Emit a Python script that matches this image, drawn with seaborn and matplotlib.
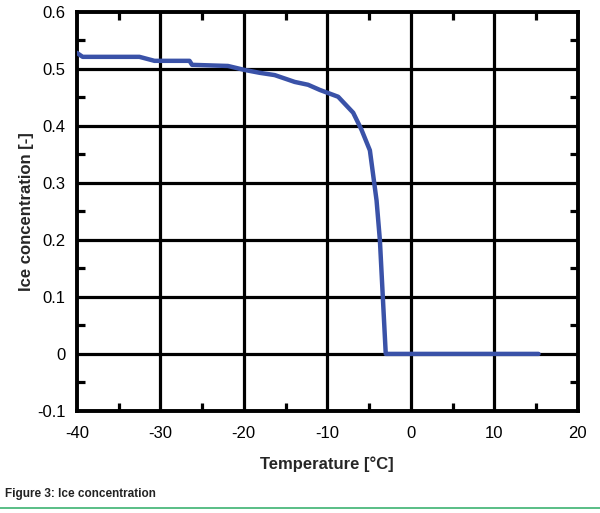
import matplotlib
matplotlib.use("Agg")
import matplotlib.pyplot as plt
import seaborn as sns
import numpy as np
from matplotlib.ticker import MultipleLocator

temperature = [-40.0, -39.3, -32.5, -30.7, -26.5, -26.2, -21.9, -19.9, -18.1, -16.3,
               -13.9, -12.3, -10.9, -8.7, -6.9, -5.9, -4.9, -4.1, -3.7, -3.0, 15.3]
ice_conc = [0.528, 0.521, 0.521, 0.514, 0.514, 0.507, 0.505, 0.498, 0.493, 0.489,
            0.477, 0.472, 0.463, 0.451, 0.423, 0.393, 0.357, 0.269, 0.199, 0.0, 0.0]

x_ticks = [-40, -30, -20, -10, 0, 10, 20]
y_ticks = [-0.1, 0, 0.1, 0.2, 0.3, 0.4, 0.5, 0.6]
y_tick_labels = ["-0.1", "0", "0.1", "0.2", "0.3", "0.4", "0.5", "0.6"]

sns.set_theme(style="white")
plt.rcParams['font.family'] = ['Liberation Sans', 'DejaVu Sans']

fig = plt.figure(figsize=(6.0, 5.13), dpi=100)
ax = fig.add_axes([0.128, 0.199, 0.835, 0.778])

for xv in x_ticks[1:-1]:
    ax.axvline(xv, color='black', lw=2.3, zorder=1)
for yv in y_ticks[1:-1]:
    ax.axhline(yv, color='black', lw=2.3, zorder=1)

sns.lineplot(x=temperature, y=ice_conc, sort=False, estimator=None, ax=ax,
             color='#3a52a8', lw=3.2, zorder=3)

ax.set_xlim(-40, 20)
ax.set_ylim(-0.1, 0.6)
ax.set_xticks(x_ticks)
ax.set_xticklabels([str(v) for v in x_ticks])
ax.set_yticks(y_ticks)
ax.set_yticklabels(y_tick_labels)
ax.xaxis.set_minor_locator(MultipleLocator(5))
ax.yaxis.set_minor_locator(MultipleLocator(0.05))
ax.tick_params(which='major', length=0, labelsize=12, colors='black')
ax.tick_params(axis='x', which='major', pad=11)
ax.tick_params(axis='y', which='major', pad=8)
ax.tick_params(which='minor', direction='in', length=6, width=2.3, color='black',
               top=True, right=True, bottom=True, left=True)
for sp in ax.spines.values():
    sp.set_color('black')
    sp.set_linewidth(2.8)
    sp.set_visible(True)

ax.set_xlabel("Temperature [°C]", fontsize=12, fontweight='bold', labelpad=11)
ax.set_ylabel("Ice concentration [-]", fontsize=12, fontweight='bold', labelpad=2)

fig.text(0.008, 0.037, "Figure 3: Ice concentration", fontsize=8.5, fontweight='bold',
         ha='left', va='center', color='#222222')
fig.add_artist(plt.Line2D([0.0, 1.0], [0.010, 0.010], color='#3cb371', lw=1.2,
                          transform=fig.transFigure))

fig.savefig("out.png", dpi=100)
